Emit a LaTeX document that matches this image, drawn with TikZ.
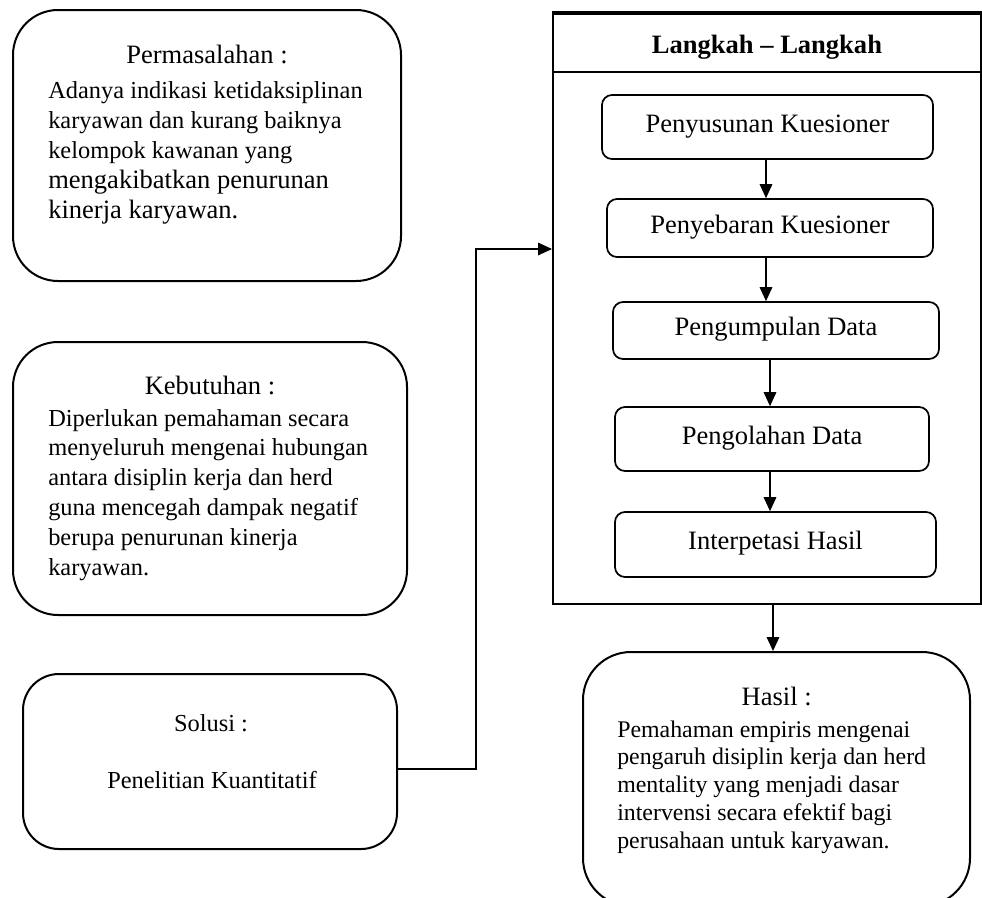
\documentclass[tikz,border=0pt]{standalone}
\usepackage{fontspec}
\setmainfont{Liberation Serif}
\usetikzlibrary{arrows.meta}
\newcommand{\bigline}[1]{{\fontsize{19.9}{22.5}\selectfont #1}}
\begin{document}
\begin{tikzpicture}[x=0.75pt,y=-0.75pt,
  rbox/.style={draw, line width=1.5pt, rounded corners=#1, inner sep=0pt},
  stepbox/.style={draw, line width=1.3pt, rounded corners=7.5pt, inner sep=0pt,
     font=\fontsize{19.9}{22}\selectfont, text height=0.8em, text depth=0em},
  ttl/.style={anchor=base, inner sep=0pt, font=\fontsize{19.9}{22}\selectfont},
  body/.style={anchor=base west, inner sep=0pt, align=left},
  arr/.style={line width=0.8pt, -{Triangle[length=10.5pt,width=9.5pt]}},
  conn/.style={line width=0.8pt}
]
\path[use as bounding box, clip] (0,0) rectangle (982,897);

% left boxes
\node[rbox=33.75pt, minimum width=291pt, minimum height=203.25pt] (perm) at (207,145.5) {};
\node[ttl] (permt) at (207,63) {Permasalahan :};
\node[body, font=\fontsize{18.3}{22.5}\selectfont] (permb) at (48,218)
  {Adanya indikasi ketidaksiplinan\\karyawan dan kurang baiknya\\kelompok kawanan yang\\\bigline{mengakibatkan penurunan}\\\bigline{kinerja karyawan.}};

\node[rbox=33.75pt, minimum width=295.5pt, minimum height=204.75pt] (kebu) at (210,478.5) {};
\node[ttl] (kebut) at (210,394) {Kebutuhan :};
\node[body, font=\fontsize{18.3}{22.35}\selectfont] (kebub) at (48,575)
  {Diperlukan pemahaman secara\\menyeluruh mengenai hubungan\\antara disiplin kerja dan herd\\guna mencegah dampak negatif\\berupa penurunan kinerja\\karyawan.};

\node[rbox=27pt, minimum width=280.5pt, minimum height=131.25pt] (solu) at (210,761.5) {};
\node[ttl, font=\fontsize{18.3}{22}\selectfont] (solut) at (211,731) {Solusi :};
\node[ttl, font=\fontsize{18.3}{22}\selectfont] (solub) at (212,788) {Penelitian Kuantitatif};

% main box
\node[draw, line width=1.5pt, minimum width=321pt, minimum height=442.5pt, inner sep=0pt] (main) at (767,309) {};
\node[draw, line width=1.5pt, minimum width=321pt, minimum height=43.5pt, inner sep=0pt] (head) at (767,43) {};
\draw[line width=2.5pt] (head.north west) -- (head.north east);
\node[ttl, font=\fontsize{19.9}{22}\selectfont\bfseries] (headt) at (767,53) {Langkah – Langkah};

\node[stepbox, minimum width=248.25pt, minimum height=48pt] (s1) at (767.5,127) {Penyusunan Kuesioner};
\node[stepbox, minimum width=244.5pt, minimum height=43.5pt] (s2) at (770,228) {Penyebaran Kuesioner};
\node[stepbox, minimum width=244.5pt, minimum height=42.75pt] (s3) at (776,330.5) {Pengumpulan Data};
\node[stepbox, minimum width=235.5pt, minimum height=48pt] (s4) at (772,439) {Pengolahan Data};
\node[stepbox, minimum width=240.75pt, minimum height=48.75pt] (s5) at (775.5,544.5) {Interpetasi Hasil};

\draw[arr] (s1.south -| 766,0) -- (s2.north -| 766,0);
\draw[arr] (s2.south -| 766,0) -- (s3.north -| 766,0);
\draw[arr] (s3.south -| 770,0) -- (s4.north -| 770,0);
\draw[arr] (s4.south -| 770,0) -- (s5.north -| 770,0);

% hasil
\node[rbox=36pt, minimum width=290.25pt, minimum height=190.5pt] (hasil) at (776.5,779) {};
\node[ttl] (hasilt) at (776.7,705) {Hasil :};
\node[body, font=\fontsize{17.9}{20.8}\selectfont] (hasilb) at (617,848)
  {Pemahaman empiris mengenai\\pengaruh disiplin kerja dan herd\\mentality yang menjadi dasar\\intervensi secara efektif bagi\\perusahaan untuk karyawan.};

\draw[arr] (main.south -| 773,0) -- (hasil.north -| 773,0);

% connector
\coordinate (bend) at (476,249);
\draw[arr] ([yshift=-5.6pt]solu.east) -- ([yshift=-5.6pt]solu.east -| bend) -- (bend) -- (bend -| main.west);
\end{tikzpicture}
\end{document}
